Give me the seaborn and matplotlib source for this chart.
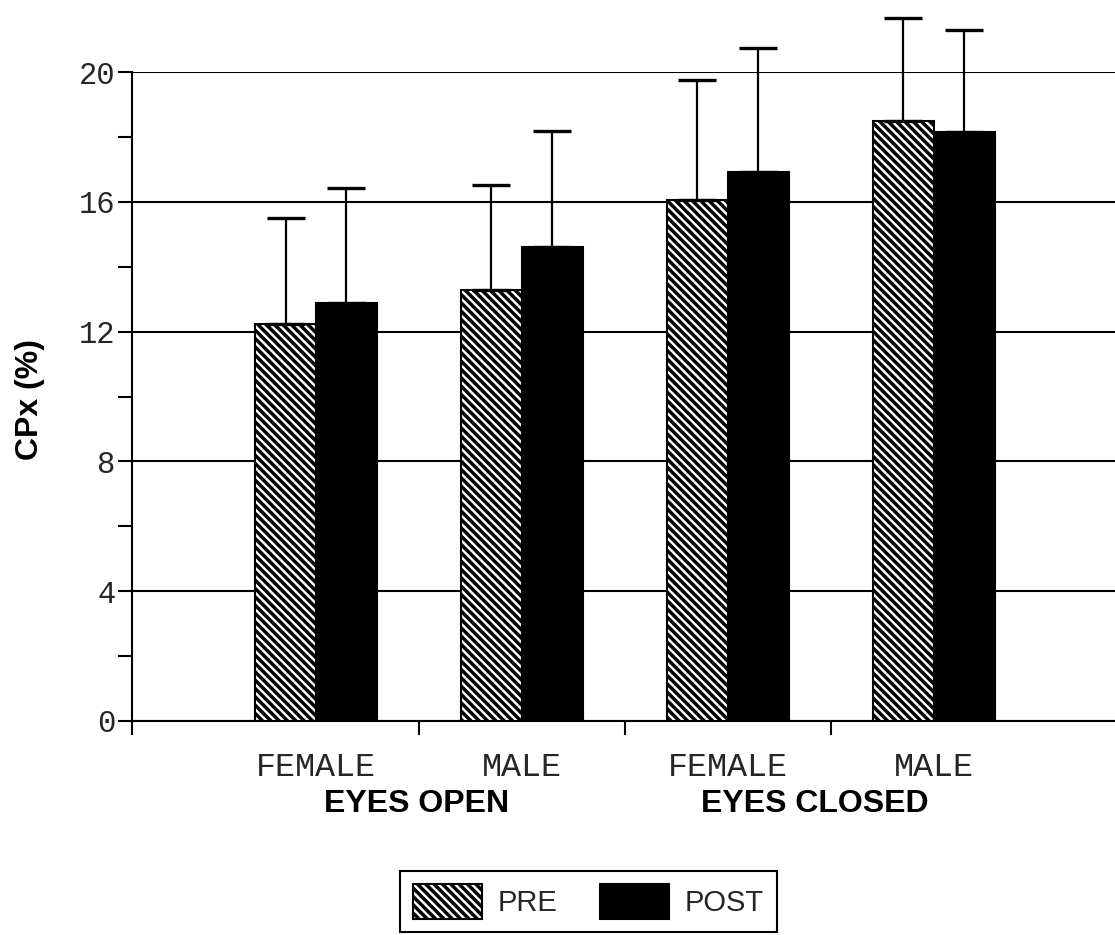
import numpy as np
import pandas as pd
import matplotlib
matplotlib.use("Agg")
import matplotlib.pyplot as plt
import matplotlib.transforms as mtransforms
from matplotlib.patches import Patch
import seaborn as sns

# ---- data ----
conditions = ["EO-F", "EO-M", "EC-F", "EC-M"]
sex_labels = ["FEMALE", "MALE", "FEMALE", "MALE"]
group_labels = ["EYES OPEN", "EYES CLOSED"]
pre_values = [12.24, 13.28, 16.06, 18.49]
post_values = [12.87, 14.62, 16.93, 18.16]
pre_err = [3.27, 3.25, 3.69, 3.16]
post_err = [3.56, 3.56, 3.82, 3.13]
time_levels = ["PRE", "POST"]
y_ticks = [0, 4, 8, 12, 16, 20]

df = pd.DataFrame({
    "condition": conditions * 2,
    "time": ["PRE"] * 4 + ["POST"] * 4,
    "value": pre_values + post_values,
    "err": pre_err + post_err,
})

HATCH = "\\\\\\\\"

sns.set_theme(style="white")
plt.rcParams["font.family"] = ["Liberation Sans", "DejaVu Sans"]
plt.rcParams["hatch.linewidth"] = 2.5
plt.rcParams["hatch.color"] = "black"

fig = plt.figure(figsize=(11.15, 9.35), dpi=100)
ax = fig.add_axes([132 / 1115, 1 - 721 / 935, 1 - 132 / 1115, (721 - 72) / 935])

sns.barplot(data=df, x="condition", y="value", hue="time", order=conditions,
            hue_order=time_levels, palette={"PRE": "white", "POST": "black"},
            edgecolor="black", linewidth=1.5, width=0.59, errorbar=None,
            legend=False, ax=ax, zorder=3)

# hatch PRE bars and add upward error bars
bars = [p for p in ax.patches]
for i, p in enumerate(bars):
    lvl = time_levels[i // len(conditions)]
    ci = i % len(conditions)
    if lvl == "PRE":
        p.set_hatch(HATCH)
    err = (pre_err if lvl == "PRE" else post_err)[ci]
    xc = p.get_x() + p.get_width() / 2
    h = p.get_height()
    ax.errorbar([xc], [h], yerr=[[0], [err]], fmt="none", ecolor="black",
                elinewidth=1.6, capsize=14, capthick=2.4, clip_on=False, zorder=4)

ax.set_xlim(-0.893, 3.88)
ax.set_ylim(0, 20)

# y axis
ax.set_yticks(y_ticks)
ax.set_yticks([2, 6, 10, 14, 18], minor=True)
ax.set_yticklabels([str(t) for t in y_ticks], family=["Liberation Mono", "DejaVu Sans Mono"],
                   fontsize=22)
ax.yaxis.grid(True, which="major", color="black", linewidth=1.5, zorder=0)
ax.set_axisbelow(True)
ax.tick_params(axis="y", which="both", direction="out", length=10, width=1.5,
               color="black", left=True, pad=2)

# x axis
ax.set_xticks(range(len(conditions)))
ax.set_xticklabels(sex_labels, family=["Liberation Mono", "DejaVu Sans Mono"], fontsize=24)
ax.set_xticks([-0.893, 0.5, 1.5, 2.5], minor=True)
ax.tick_params(axis="x", which="major", length=0, pad=22)
ax.tick_params(axis="x", which="minor", direction="out", length=10, width=1.5,
               color="black", bottom=True)
ax.set_xlabel("")

for s in ["top", "right"]:
    ax.spines[s].set_visible(False)
for s in ["left", "bottom"]:
    ax.spines[s].set_color("black")
    ax.spines[s].set_linewidth(1.5)

ax.set_ylabel("CPx (%)", fontsize=23, fontweight="bold", color="black")
ax.yaxis.set_label_coords(-0.088, 0.495)

trans = mtransforms.blended_transform_factory(ax.transData, fig.transFigure)
ax.text(0.49, 1 - 804 / 935, group_labels[0], transform=trans, ha="center", va="center",
        fontsize=23, fontweight="bold", color="black")
ax.text(2.42, 1 - 804 / 935, group_labels[1], transform=trans, ha="center", va="center",
        fontsize=23, fontweight="bold", color="black")

handles = [Patch(facecolor="white", edgecolor="black", hatch=HATCH, linewidth=1.5, label="PRE"),
           Patch(facecolor="black", edgecolor="black", linewidth=1.5, label="POST")]
leg = fig.legend(handles=handles, loc="upper center", bbox_to_anchor=(588.5 / 1115, 1 - 871 / 935),
                 ncol=2, fontsize=21, frameon=True, fancybox=False, edgecolor="black",
                 handlelength=2.35, handleheight=1.45, handletextpad=0.55, columnspacing=1.45,
                 borderpad=0.45, borderaxespad=0)
leg.get_frame().set_linewidth(1.5)
leg.get_frame().set_alpha(1)

fig.savefig("out.png", dpi=100, facecolor="white")
